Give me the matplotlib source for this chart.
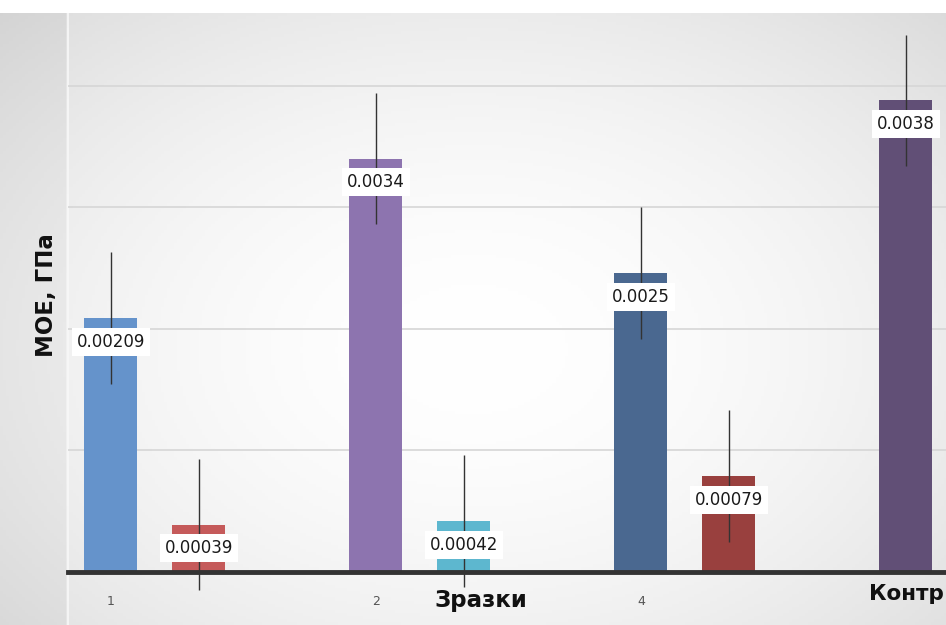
import numpy as np
import matplotlib
matplotlib.use("Agg")
import matplotlib.pyplot as plt

# ---- data ----
categories = ["1", "2", "4", "Контр"]
main_values = [0.00209, 0.00340, 0.00246, 0.00388]
main_errors = [0.00054, 0.00054, 0.00054, 0.00054]
main_labels = ["0.00209", "0.0034", "0.0025", "0.0038"]
main_colors = ["#6593CB", "#8D74AF", "#4A6890", "#614F76"]

second_values = [0.00039, 0.00042, 0.00079]
second_errors = [0.00054, 0.00054, 0.00054]
second_labels = ["0.00039", "0.00042", "0.00079"]
second_colors = ["#C55A5A", "#5DB7CF", "#99403E"]

y_label = "МОЕ, ГПа"
x_label = "Зразки"

# ---- figure ----
fig = plt.figure(figsize=(9.46, 6.25), dpi=100)
fig.patch.set_facecolor("white")

# background gradient
bg = fig.add_axes([0, 0, 1, 1 - 13 / 625], zorder=-5)
yy, xx = np.mgrid[0:1:200j, 0:1:300j]
r = np.sqrt(((xx - 0.5) / 0.75) ** 2 + ((yy - 0.45) / 0.8) ** 2)
g = 1.0 - 0.15 * np.clip(r, 0, 1) ** 1.8
g[:, :int(300 * 68 / 946)] -= 0.03
bg.imshow(np.dstack([g, g, g]), extent=[0, 1, 0, 1], aspect="auto", origin="lower")
bg.axvline(68 / 946, color="#F8F8F8", lw=1.2)
bg.set_xlim(0, 1)
bg.set_ylim(0, 1)
bg.set_axis_off()

ax = fig.add_axes([68 / 946, 53 / 625, 1 - 68 / 946, (572 - 13) / 625])
ax.set_facecolor("none")

group_x = np.arange(len(categories))
offset = 0.332
width = 0.2

ax.bar(group_x, main_values, width=width, color=main_colors, zorder=2)
eb1 = ax.errorbar(group_x, main_values, yerr=main_errors, fmt="none",
                  ecolor="#333333", elinewidth=1, capsize=0, zorder=3)
sx = group_x[:len(second_values)] + offset
ax.bar(sx, second_values, width=width, color=second_colors, zorder=2)
eb2 = ax.errorbar(sx, second_values, yerr=second_errors, fmt="none",
                  ecolor="#333333", elinewidth=1, capsize=0, zorder=3)
for eb in (eb1, eb2):
    for lc in eb.lines[2]:
        lc.set_clip_on(False)

for x, v, t in list(zip(group_x, main_values, main_labels)) + list(zip(sx, second_values, second_labels)):
    ax.annotate(t, (x, v), xytext=(0, -17), textcoords="offset points",
                ha="center", va="center", fontsize=12, color="#1a1a1a",
                bbox=dict(boxstyle="square,pad=0.3", fc="white", ec="none"),
                zorder=4, annotation_clip=False)

ax.set_xlim(-0.162, 3.151)
ax.set_ylim(0, 0.0046)
ax.set_yticks([0.001, 0.002, 0.003, 0.004])
ax.yaxis.grid(True, color="#D6D6D6", lw=1.2, zorder=0)
ax.tick_params(axis="y", left=False, labelleft=False)
for s in ["top", "right", "left"]:
    ax.spines[s].set_visible(False)
ax.spines["bottom"].set_color("#333333")
ax.spines["bottom"].set_linewidth(3.5)
ax.spines["bottom"].set_zorder(5)

ax.set_xticks(group_x)
ax.set_xticklabels(categories)
ax.tick_params(axis="x", bottom=False, pad=13, labelsize=9, labelcolor="#555555")
last = ax.get_xticklabels()[-1]
last.set_fontsize(15.5)
last.set_fontweight("bold")
last.set_color("#111111")
last.set_y(0.02)

fig.text(481 / 946, 1 - 601 / 625, x_label, ha="center", va="center",
         fontsize=16.5, fontweight="bold", color="#111111")
fig.text(46 / 946, 1 - 295 / 625, y_label, ha="center", va="center",
         rotation=90, fontsize=16.5, fontweight="bold", color="#111111")

fig.savefig("out.png", dpi=100, facecolor=fig.get_facecolor())
